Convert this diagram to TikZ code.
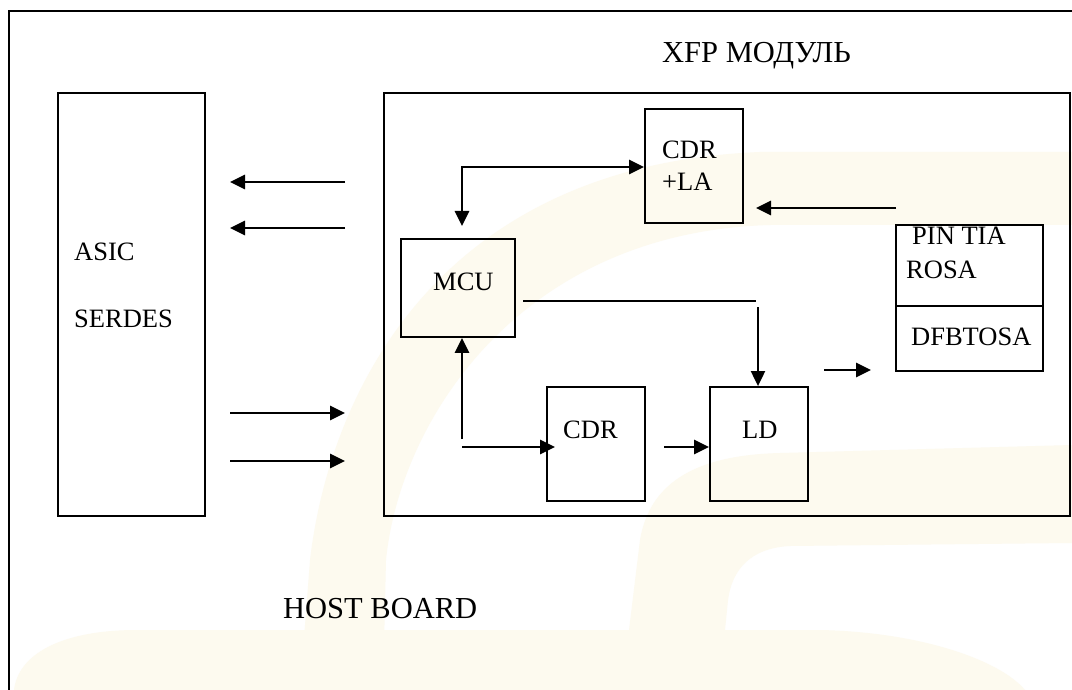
\documentclass[tikz,border=0pt]{standalone}
\usepackage{fontspec}
\setmainfont{Liberation Serif}
\usetikzlibrary{arrows.meta}

\definecolor{wmark}{RGB}{253,250,239}

\tikzset{
  blk/.style={draw=black, line width=1.8pt, inner sep=0pt, fill=none},
  lbl/.style={anchor=base west, inner sep=0pt, font=\fontsize{26.5}{30}\selectfont},
  biglbl/.style={anchor=base west, inner sep=0pt, font=\fontsize{30.5}{34}\selectfont},
  arr/.style={line width=2.7pt, -{Triangle[length=15pt,width=14pt]}},
  dblarr/.style={line width=2.7pt, {Triangle[length=15pt,width=14pt]}-{Triangle[length=15pt,width=14pt]}},
  wire/.style={line width=2pt},
  warr/.style={line width=2pt, -{Triangle[length=15pt,width=14pt]}}
}

\begin{document}
\begin{tikzpicture}[x=1pt, y=-1pt]
\useasboundingbox (0,0) rectangle (1072,690);
\fill[white] (0,0) rectangle (1072,690);

% faint logo in the background
\fill[wmark] (300,690) -- (310,560) .. controls (330,390) and (440,165) .. (760,152)
  -- (1072,152) -- (1072,225) -- (770,225) .. controls (520,232) and (400,420) .. (386,560)
  -- (383,690) -- cycle;
\fill[wmark] (14,690) .. controls (18,655) and (60,630) .. (137,630)
  -- (820,630) .. controls (920,632) and (1000,660) .. (1025,690) -- cycle;
\fill[wmark] (629,630) -- (640,540) .. controls (650,480) and (700,455) .. (780,453)
  -- (1072,445) -- (1072,543) -- (790,546) .. controls (750,548) and (732,570) .. (728,600)
  -- (725,630) -- cycle;

% host board outline
\draw[line width=1.8pt] (9,690) -- (9,11) -- (1072,11);

% blocks
\node[blk, minimum width=147pt, minimum height=423pt] (asic) at (131.5,304.5) {};
\node[blk, minimum width=686pt, minimum height=423pt] (xfp) at (727,304.5) {};
\node[blk, minimum width=98pt, minimum height=114pt] (cdrla) at (694,166) {};
\node[blk, minimum width=114pt, minimum height=98pt] (mcu) at (458,288) {};
\node[blk, minimum width=147pt, minimum height=81pt] (rosa) at (969.5,265.5) {};
\node[blk, minimum width=147pt, minimum height=65pt] (tosa) at (969.5,338.5) {};
\node[blk, minimum width=98pt, minimum height=114pt] (cdr) at (596,444) {};
\node[blk, minimum width=98pt, minimum height=114pt] (ld) at (759,444) {};

% labels
\node[biglbl] (tXfp) at (662,63) {XFP МОДУЛЬ};
\node[lbl] (tAsic) at (74,261) {ASIC};
\node[lbl] (tSerdes) at (74,327) {SERDES};
\node[lbl] (tMcu) at (433,290) {MCU};
\node[lbl] (tCdrA) at (662,159) {CDR};
\node[lbl] (tCdrB) at (662,191) {+LA};
\node[lbl] (tPin) at (912,244) {PIN TIA};
\node[lbl] (tRosa) at (906,278) {ROSA};
\node[lbl] (tTosa) at (911,345) {DFBTOSA};
\node[lbl] (tCdr) at (563,438) {CDR};
\node[lbl] (tLd) at (742,438) {LD};
\node[biglbl] (tHost) at (283,618) {HOST BOARD};

% free ends of the connectors
\coordinate (rx1a) at (345,182); \coordinate (rx1b) at (230,182);
\coordinate (rx2a) at (345,228); \coordinate (rx2b) at (230,228);
\coordinate (tx1a) at (230,413); \coordinate (tx1b) at (345,413);
\coordinate (tx2a) at (230,461); \coordinate (tx2b) at (345,461);
\coordinate (mcuTip) at (462,226);
\coordinate (ctlCorner) at (462,167);
\coordinate (rosaOut) at (896,208);
\coordinate (cdrlaIn) at (756,208);
\coordinate (mcuOut) at (523,301);
\coordinate (bendEnd) at (756,301);
\coordinate (ldDrop) at (758,307);
\coordinate (monBot) at (462,439);
\coordinate (monTurn) at (462,447);
\coordinate (cdrTip) at (555,447);
\coordinate (cdrOut) at (664,447);
\coordinate (ldOut) at (824,370);
\coordinate (tosaIn) at (871,370);

% connectors between host and module
\draw[arr] (rx1a) -- (rx1b);
\draw[arr] (rx2a) -- (rx2b);
\draw[arr] (tx1a) -- (tx1b);
\draw[arr] (tx2a) -- (tx2b);

% inside the module
\draw[dblarr] (mcuTip) -- (ctlCorner) -- (ctlCorner -| cdrla.west);
\draw[arr] (rosaOut) -- (cdrlaIn);
\draw[wire] (mcuOut) -- (bendEnd);
\draw[warr] (ldDrop) -- (ldDrop |- ld.north);
\draw[arr] (monBot) -- (monBot |- mcu.south);
\draw[arr] (monTurn) -- (cdrTip);
\draw[arr] (cdrOut) -- (cdrOut -| ld.west);
\draw[arr] (ldOut) -- (tosaIn);
\end{tikzpicture}
\end{document}
